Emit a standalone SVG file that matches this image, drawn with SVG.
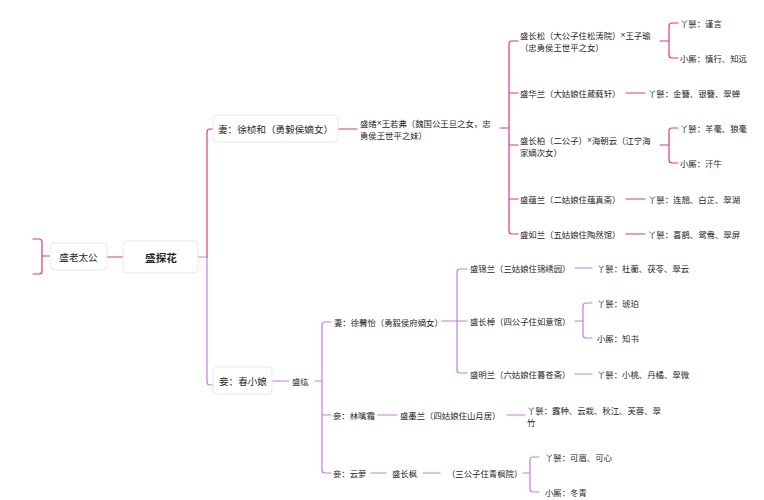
<svg xmlns="http://www.w3.org/2000/svg" width="764" height="500" viewBox="0 0 764 500">
<style>
.p{stroke:#dc3a7c;fill:none;stroke-width:1.2;stroke-linecap:round}
.v{stroke:#c57ce0;fill:none;stroke-width:1.2;stroke-linecap:round}
.t{font-family:"Noto Sans CJK SC","Noto Sans",sans-serif;font-size:8.4px;fill:#262626;dominant-baseline:central}
.b{font-size:9.6px}
.x{font-family:"Liberation Sans",sans-serif}
.box{fill:#fff;stroke:#e8e8e8;stroke-width:1}
</style>
<rect width="764" height="500" fill="#fff"/>
<g id="connectors">
<path class="p" d="M33 239H39Q42 239 42 242V271Q42 274 39 274H33M42 256H50"/>
<path class="p" d="M107 257H123"/>
<path class="v" d="M198 257H207"/>
<path class="p" d="M213 129H210Q207 129 207 132V257"/>
<path class="v" d="M207 257V382Q207 385 210 385H213"/>
<path class="p" d="M338 129H357"/>
<path class="p" d="M500 128H509M518 41H512Q509 41 509 44V231Q509 234 512 234H518M509 93H518M509 145H518M509 199H518"/>
<path class="p" d="M660 41H669M678 23H672Q669 23 669 26V55Q669 58 672 58H678"/>
<path class="p" d="M626 93H645"/>
<path class="p" d="M660 145H669M678 128H672Q669 128 669 131V160Q669 163 672 163H678"/>
<path class="p" d="M626 199H645M626 234H645"/>
<path class="v" d="M272 381H289"/>
<path class="v" d="M315 381H322M331 322H325Q322 322 322 325V470Q322 473 325 473H331M322 415H331"/>
<path class="v" d="M442 321H467M467 269H460Q457 269 457 272V370Q457 373 460 373H467"/>
<path class="v" d="M575 268H592M575 321H583M592 303H586Q583 303 583 306V335Q583 338 586 338H592M575 374H592"/>
<path class="v" d="M378 415H397M507 415H525"/>
<path class="v" d="M371 473H386M423 473H440M523 473H530M539 457H533Q530 457 530 460V489Q530 492 533 492H539"/>
</g>
<g id="n-laotaigong"><rect class="box" x="50" y="243" width="57" height="27" rx="4"/><text class="t b" x="78.5" y="257" text-anchor="middle">盛老太公</text></g>
<g id="n-tanhua"><rect class="box" x="123" y="241" width="75" height="32" rx="4"/><text class="t" x="161" y="257" text-anchor="middle" style="font-size:10.6px;font-weight:bold">盛探花</text></g>
<g id="n-xuzhenhe"><rect class="box" x="213" y="115" width="125" height="27" rx="4"/><text class="t b" x="218" y="129">妻：徐桢和（勇毅侯嫡女）</text></g>
<g id="n-shengxu"><text class="t" x="360" y="123">盛绪<tspan class="x">×</tspan>王若弗（魏国公王旦之女，忠</text><text class="t" x="360" y="135">勇侯王世平之妹）</text></g>
<g id="n-changsong"><text class="t" x="520" y="35">盛长松（大公子住松涛院）<tspan class="x">×</tspan>王子瑜</text><text class="t" x="520" y="47">（忠勇侯王世平之女）</text></g>
<g id="n-changsong-yh"><text class="t" x="680" y="23">丫鬟：谨言</text></g>
<g id="n-changsong-xs"><text class="t" x="680" y="58">小厮：慎行、知远</text></g>
<g id="n-hualan"><text class="t" x="520" y="93">盛华兰（大姑娘住葳蕤轩）</text></g>
<g id="n-hualan-yh"><text class="t" x="648" y="93">丫鬟：金簪、银簪、翠蝉</text></g>
<g id="n-changbai"><text class="t" x="520" y="140">盛长柏（二公子）<tspan class="x">×</tspan>海朝云（江宁海</text><text class="t" x="520" y="152">家嫡次女）</text></g>
<g id="n-changbai-yh"><text class="t" x="680" y="128">丫鬟：羊毫、狼毫</text></g>
<g id="n-changbai-xs"><text class="t" x="680" y="163">小厮：汗牛</text></g>
<g id="n-yunlan"><text class="t" x="520" y="199">盛蕴兰（二姑娘住蕴真斋）</text></g>
<g id="n-yunlan-yh"><text class="t" x="648" y="199">丫鬟：连翘、白芷、翠湖</text></g>
<g id="n-rulan"><text class="t" x="520" y="234">盛如兰（五姑娘住陶然馆）</text></g>
<g id="n-rulan-yh"><text class="t" x="648" y="234">丫鬟：喜鹊、鸳鸯、翠屏</text></g>
<g id="n-chunxiaoniang"><rect class="box" x="213" y="367" width="59" height="27" rx="4"/><text class="t b" x="219" y="381">妾：春小娘</text></g>
<g id="n-shenghong"><text class="t" x="292" y="381">盛纮</text></g>
<g id="n-xuxinyi"><text class="t" x="334" y="322">妻：徐馨怡（勇毅侯府嫡女）</text></g>
<g id="n-jinlan"><text class="t" x="470" y="268">盛锦兰（三姑娘住锦绣园）</text></g>
<g id="n-jinlan-yh"><text class="t" x="597" y="268">丫鬟：杜蘅、茯苓、翠云</text></g>
<g id="n-changzhao"><text class="t" x="470" y="321">盛长棹（四公子住如意馆）</text></g>
<g id="n-changzhao-yh"><text class="t" x="597" y="303">丫鬟：琥珀</text></g>
<g id="n-changzhao-xs"><text class="t" x="597" y="338">小厮：知书</text></g>
<g id="n-minglan"><text class="t" x="470" y="374">盛明兰（六姑娘住暮苍斋）</text></g>
<g id="n-minglan-yh"><text class="t" x="597" y="374">丫鬟：小桃、丹橘、翠微</text></g>
<g id="n-linqinshuang"><text class="t" x="333" y="415">妾：林噙霜</text></g>
<g id="n-molan"><text class="t" x="400" y="415">盛墨兰（四姑娘住山月居）</text></g>
<g id="n-molan-yh"><text class="t" x="527" y="410">丫鬟：露种、云栽、秋江、芙蓉、翠</text><text class="t" x="527" y="422">竹</text></g>
<g id="n-yunluo"><text class="t" x="333" y="473">妾：云萝</text></g>
<g id="n-changfeng"><text class="t" x="392" y="473">盛长枫</text></g>
<g id="n-qingfeng"><text class="t" x="447" y="473">（三公子住青枫院）</text></g>
<g id="n-changfeng-yh"><text class="t" x="545" y="457">丫鬟：可眉、可心</text></g>
<g id="n-changfeng-xs"><text class="t" x="545" y="492">小厮：冬青</text></g>
</svg>
